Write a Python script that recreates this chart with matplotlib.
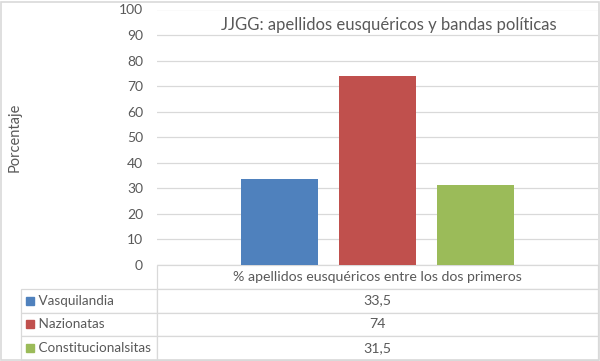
import matplotlib.pyplot as plt
from matplotlib.patches import Rectangle

plt.rcParams['font.family'] = ['Lato', 'DejaVu Sans']

# Data
category = "% apellidos eusquéricos entre los dos primeros"
series = ["Vasquilandia", "Nazionatas", "Constitucionalsitas"]
values = [33.5, 74, 31.5]
value_labels = ["33,5", "74", "31,5"]
colors = ["#4F81BD", "#C0504D", "#9BBB59"]
yticks = [0, 10, 20, 30, 40, 50, 60, 70, 80, 90, 100]

text_color = "#595959"
grid_color = "#D9D9D9"

W, H = 600, 361
fig = plt.figure(figsize=(6, 3.61), dpi=100)

# plot area in pixels: x 157..598, y 9.5..265
ax = fig.add_axes([157 / W, 1 - 265 / H, 441 / W, 255.5 / H])

bar_w = 77 / 441
step = 98 / 441
for i, (v, c) in enumerate(zip(values, colors)):
    ax.bar((i - 1) * step, v, width=bar_w, color=c, zorder=3)

ax.set_xlim(-0.5, 0.5)
ax.set_ylim(0, 100)
ax.set_yticks(yticks)
ax.set_xticks([])
ax.yaxis.grid(True, color=grid_color, linewidth=0.9)
ax.set_axisbelow(True)
for s in ax.spines.values():
    s.set_visible(False)
ax.tick_params(axis='y', length=0, pad=10, labelsize=10, labelcolor=text_color)

# data table below the plot: label column + value column
tbl_h = 95 / 255.5
lab_w = 136 / 441
tbl = ax.table(cellText=[["     " + s, v] for s, v in zip(series, value_labels)],
               colLabels=["", category],
               colWidths=[lab_w, 1.0],
               cellLoc='center', colLoc='center',
               bbox=[-lab_w, -tbl_h, 1 + lab_w, tbl_h])
tbl.auto_set_font_size(False)
for (r, c), cell in tbl.get_celld().items():
    cell.set_edgecolor(grid_color)
    cell.set_linewidth(0.9)
    cell.get_text().set_fontsize(10.2)
    cell.get_text().set_color(text_color)
    if c == 0:
        cell.get_text().set_horizontalalignment('left')
        cell.get_text().set_fontsize(9.7)
        cell.PAD = 0.0
    if r == 0 and c == 0:
        cell.visible_edges = ''

# legend keys in the row labels
row_h = tbl_h / 4
for i, c in enumerate(colors):
    ax.plot(-lab_w + 9 / 441, -row_h * (1.5 + i), marker='s', markersize=6,
            color=c, transform=ax.transAxes, clip_on=False)

fig.text(389 / W, 1 - 25 / H, "JJGG: apellidos eusquéricos y bandas políticas",
         ha='center', va='center', fontsize=12, color=text_color)
fig.text(15 / W, 1 - 137 / H, "Porcentaje", rotation=90,
         ha='center', va='center', fontsize=10.5, color=text_color)

fig.patches.append(Rectangle((1 / W, 1 / H), 597.5 / W, 358 / H,
                             transform=fig.transFigure, fill=False,
                             edgecolor="#D9D9D9", linewidth=1.2))

fig.savefig("out.png", dpi=100)
